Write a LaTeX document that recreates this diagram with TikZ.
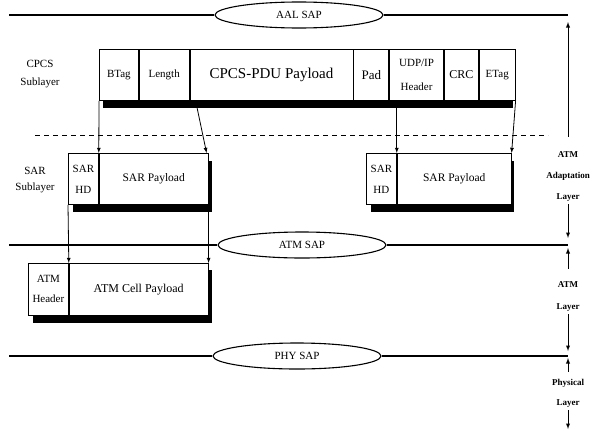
\documentclass[tikz,border=0pt]{standalone}
\usepackage{fontspec}
\setmainfont{Liberation Serif}
\usetikzlibrary{shapes.geometric}

\tikzset{
  field/.style={draw, fill=white, line width=0.8pt, anchor=north west, inner sep=0pt,
    align=center, font=\fontsize{11}{13}\selectfont},
  sap/.style={draw, ellipse, fill=white, line width=1.1pt, minimum width=168pt,
    minimum height=26pt, inner sep=0pt, font=\fontsize{11}{13}\selectfont},
  sapline/.style={line width=1.5pt},
  layer/.style={align=center, inner sep=0pt},
  sublayer/.style={align=center, inner sep=0pt},
}

\begin{document}
\begin{tikzpicture}[x=1pt, y=-1pt]
            \useasboundingbox (0,0) rectangle (601,439);
            % service access points
            \node[sap] (aal) at (299,15) {AAL SAP};
            \node[sap] (atm) at (302,245) {ATM SAP};
            \node[sap] (phy) at (297,356) {PHY SAP};
            \coordinate (aalL) at (9,15);   \coordinate (aalR) at (568,15);
            \coordinate (atmL) at (9,245);  \coordinate (atmR) at (568,245);
            \coordinate (phyL) at (9,356);  \coordinate (phyR) at (568,356);
            \coordinate (phyEnd) at (568,429);
            \draw[sapline] (aalL) -- (aal.west);  \draw[sapline] (aal.east) -- (aalR);
            \draw[sapline] (atmL) -- (atm.west);  \draw[sapline] (atm.east) -- (atmR);
            \draw[sapline] (phyL) -- (phy.west);  \draw[sapline] (phy.east) -- (phyR);
            \draw[dashed, dash pattern=on 5pt off 4pt, line width=0.9pt] (35,135) -- (548,135);
            % sublayer names
            \node[sublayer, font=\fontsize{11}{18}\selectfont] (cpcs) at (40,74) {CPCS\\Sublayer};
            \node[sublayer, font=\fontsize{11}{16}\selectfont] (sar) at (35,180) {SAR\\Sublayer};
            % CPCS-PDU
            \fill (103,56) rectangle (513,108);
            \node[field, minimum width=39pt, minimum height=51pt] (btag) at (99,49) {BTag};
            \node[field, minimum width=50pt, minimum height=51pt] (len) at (btag.north east) {Length};
            \node[field, minimum width=163pt, minimum height=51pt, font=\fontsize{15}{18}\selectfont]
            (pay) at (len.north east) {CPCS-PDU Payload};
            \node[field, minimum width=35pt, minimum height=51pt, font=\fontsize{13}{15}\selectfont]
            (pad) at (pay.north east) {Pad};
            \node[field, minimum width=54pt, minimum height=51pt, font=\fontsize{11}{24}\selectfont]
            (udp) at (pad.north east) {UDP/IP\\Header};
            \node[field, minimum width=34pt, minimum height=51pt, font=\fontsize{12}{14}\selectfont]
            (crc) at (udp.north east) {CRC};
            \node[field, minimum width=36pt, minimum height=51pt] (etag) at (crc.north east) {ETag};
            % SAR-PDUs
            \fill (73,161) rectangle (212,212);
            \fill (371,161) rectangle (514,212);
            \node[field, minimum width=30pt, minimum height=51pt, font=\fontsize{11}{21}\selectfont]
            (sarhdL) at (68,153) {SAR\\HD};
            \node[field, minimum width=109pt, minimum height=51pt, font=\fontsize{11.5}{14}\selectfont]
            (sarpL) at (sarhdL.north east) {SAR Payload};
            \node[field, minimum width=30pt, minimum height=51pt, font=\fontsize{11}{21}\selectfont]
            (sarhdR) at (366,153) {SAR\\HD};
            \node[field, minimum width=114pt, minimum height=51pt, font=\fontsize{11.5}{14}\selectfont]
            (sarpR) at (sarhdR.north east) {SAR Payload};
            % ATM cell
            \fill (33,270) rectangle (212,323);
            \node[field, minimum width=40pt, minimum height=52pt, font=\fontsize{11}{20}\selectfont]
            (atmhdr) at (28,263) {ATM\\Header};
            \node[field, minimum width=139pt, minimum height=52pt, font=\fontsize{12}{14}\selectfont]
            (atmpay) at (atmhdr.north east) {ATM Cell Payload};
            % segmentation arrows
            \draw[-latex, line width=0.8pt] (btag.south west) -- (sarhdL.north east);
            \draw[-latex, line width=0.8pt] ([xshift=6pt]len.south east) -- ([xshift=-2pt]sarpL.north east);
            \draw[-latex, line width=0.8pt] (sarhdR.north east |- udp.south) -- (sarhdR.north east);
            \draw[-latex, line width=0.8pt] (etag.south east) -- (sarpR.north east);
            \draw[-latex, line width=0.8pt] (sarhdL.south west) -- (atmhdr.north east);
            \draw[-latex, line width=0.8pt] (sarpL.south east) -- (atmpay.north east);
            % layer names
            \node[layer, font=\bfseries\fontsize{9}{21}\selectfont] (aalLayer) at (568,176)
            {ATM\\Adaptation\\Layer};
            \node[layer, font=\bfseries\fontsize{9}{22}\selectfont] (atmLayer) at (568,296) {ATM\\Layer};
            \node[layer, font=\bfseries\fontsize{9}{20}\selectfont] (phyLayer) at (568,393) {Physical\\Layer};
            \draw[-latex, line width=0.9pt] ([yshift=14pt]aalLayer.north) -- ([yshift=-7pt]aalR);
            \draw[-latex, line width=0.9pt] ([yshift=-3pt]aalLayer.south) -- ([yshift=7pt]atmR);
            \draw[-latex, line width=0.9pt] ([yshift=12pt]atmLayer.north) -- ([yshift=-3pt]atmR);
            \draw[-latex, line width=0.9pt] ([yshift=-3pt]atmLayer.south) -- ([yshift=5pt]phyR);
            \draw[-latex, line width=0.9pt] ([yshift=7pt]phyLayer.north) -- ([yshift=-2pt]phyR);
            \draw[-latex, line width=0.9pt] ([yshift=-3pt]phyLayer.south) -- (phyEnd);
        \end{tikzpicture}
\end{document}
